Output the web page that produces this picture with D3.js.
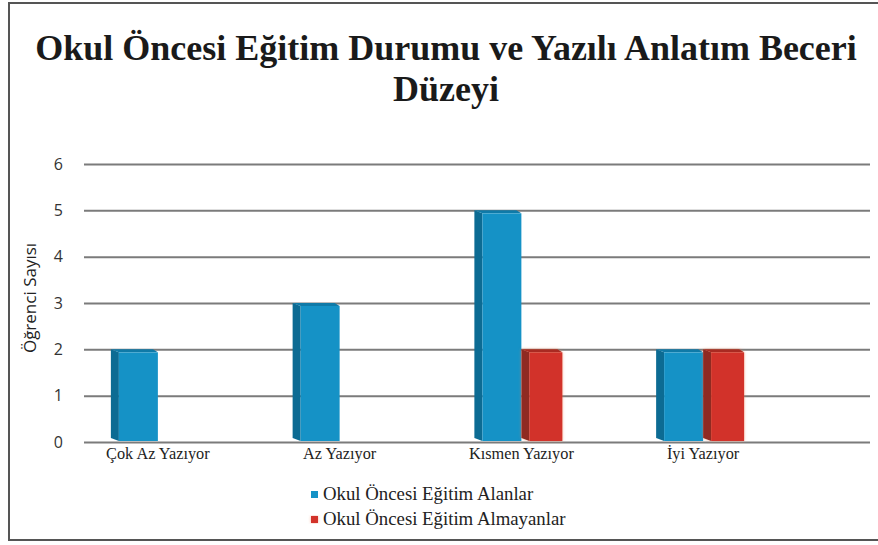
<!DOCTYPE html>
<html>
<head>
<meta charset="utf-8">
<script src="https://cdn.jsdelivr.net/npm/d3@7"></script>
<style>
  body { margin: 0; background: #fff; }
  svg { display: block; }
</style>
</head>
<body>
<script>
// Okul Öncesi Eğitim Durumu ve Yazılı Anlatım Beceri Düzeyi
// grouped bars, drawn with a little fake 3D side/top

var categories = ["Çok Az Yazıyor", "Az Yazıyor", "Kısmen Yazıyor", "İyi Yazıyor"];
var seriesNames = ["Okul Öncesi Eğitim Alanlar", "Okul Öncesi Eğitim Almayanlar"];
var alanlar = [2, 3, 5, 2];
var almayanlar = [0, 0, 2, 2];
var yTicks = [0, 1, 2, 3, 4, 5, 6];

var w = 878,
    h = 545;

var serif = "'Liberation Serif', 'Times New Roman', serif";

var colors = [
  {front: "#1592c6", side: "#0c6b93", top: "#0f7aa8"},
  {front: "#d2322a", side: "#8f2a22", top: "#a92a22"}
];

var svg = d3.select("body").append("svg")
  .attr("width", w)
  .attr("height", h);

// red bars have a soft orange halo in the original
var defs = svg.append("defs");
var glow = defs.append("filter").attr("id", "glow")
  .attr("x", "-30%").attr("y", "-10%").attr("width", "160%").attr("height", "120%");
glow.append("feGaussianBlur").attr("in", "SourceAlpha").attr("stdDeviation", 1.6).attr("result", "b");
glow.append("feFlood").attr("flood-color", "#f07850").attr("flood-opacity", 0.55);
glow.append("feComposite").attr("in2", "b").attr("operator", "in").attr("result", "g");
var merge = glow.append("feMerge");
merge.append("feMergeNode").attr("in", "g");
merge.append("feMergeNode").attr("in", "SourceGraphic");

// frame (right side runs off the picture)
svg.append("rect")
  .attr("x", 9).attr("y", 3)
  .attr("width", w + 10).attr("height", 537)
  .attr("fill", "none")
  .attr("stroke", "#555")
  .attr("stroke-width", 2);

// title
var title = svg.append("text")
  .attr("x", 446)
  .attr("text-anchor", "middle")
  .style("font-family", serif)
  .style("font-weight", "bold")
  .style("font-size", "36px")
  .attr("fill", "#1a1a1a");
title.append("tspan").attr("x", 446).attr("y", 60).text("Okul Öncesi Eğitim Durumu ve Yazılı Anlatım Beceri");
title.append("tspan").attr("x", 446).attr("y", 101).text("Düzeyi");

var y = d3.scaleLinear().domain([0, 6]).range([442, 164]);

var x = d3.scaleBand().domain(categories).range([67, 794]).padding(0);

var x1 = d3.scaleBand().domain(seriesNames)
  .range([x.bandwidth() / 2 - 47, x.bandwidth() / 2 + 47])
  .padding(0);

// gridlines + tick labels via axis
var yAxis = svg.append("g")
  .attr("transform", "translate(84,0)")
  .call(d3.axisLeft(y).tickValues(yTicks).tickSize(-786).tickPadding(21).tickFormat(d3.format("d")));
yAxis.select(".domain").remove();
yAxis.selectAll(".tick line")
  .attr("stroke", "#7b7b7b")
  .attr("stroke-width", 2);
yAxis.selectAll(".tick text")
  .style("font-family", "'Open Sans', sans-serif")
  .style("font-size", "16px")
  .attr("fill", "#333");

svg.append("text")
  .attr("transform", "translate(36,298) rotate(-90)")
  .attr("text-anchor", "middle")
  .style("font-family", "'Open Sans', sans-serif")
  .style("font-size", "17px")
  .attr("fill", "#222")
  .text("Öğrenci Sayısı");

// category labels
svg.append("g").selectAll("text")
  .data(categories)
  .join("text")
  .attr("x", function(d){ return x(d) + x.bandwidth() / 2; })
  .attr("y", 459)
  .attr("text-anchor", "middle")
  .style("font-family", serif)
  .style("font-size", "16.3px")
  .attr("fill", "#222")
  .text(function(d){ return d; });

// bars
var rows = [];
categories.forEach(function(c, i){
  rows.push({cat: c, s: 0, v: alanlar[i]});
  rows.push({cat: c, s: 1, v: almayanlar[i]});
});
rows = rows.filter(function(d){ return d.v > 0; });

var depth = 8;
var bars = svg.append("g").selectAll("g")
  .data(rows)
  .join("g")
  .attr("filter", function(d){ return d.s == 1 ? "url(#glow)" : null; });

function geom(d) {
  var bx = x(d.cat) + x1(seriesNames[d.s]),
      bw = x1.bandwidth() - (d.s == 1 ? 6 : 0),
      top = y(d.v),
      bot = y(0) - 1;
  return {bx: bx, bw: bw, top: top, bot: bot};
}

bars.append("polygon")
  .attr("points", function(d){
    var g = geom(d);
    return [[g.bx, g.top], [g.bx + depth, g.top + 3], [g.bx + depth, g.bot], [g.bx, g.bot - 3]].join(" ");
  })
  .attr("fill", function(d){ return colors[d.s].side; });

bars.append("polygon")
  .attr("points", function(d){
    var g = geom(d);
    return [[g.bx, g.top], [g.bx + g.bw - 5, g.top], [g.bx + g.bw, g.top + 3], [g.bx + depth, g.top + 3]].join(" ");
  })
  .attr("fill", function(d){ return colors[d.s].top; });

bars.append("rect")
  .attr("x", function(d){ return geom(d).bx + depth; })
  .attr("y", function(d){ return geom(d).top + 3; })
  .attr("width", function(d){ return geom(d).bw - depth; })
  .attr("height", function(d){ var g = geom(d); return g.bot - g.top - 3; })
  .attr("fill", function(d){ return colors[d.s].front; });

// legend
var legend = svg.append("g").selectAll("g")
  .data(seriesNames)
  .join("g")
  .attr("transform", function(d, i){ return "translate(311," + (500 + i * 25) + ")"; });
legend.append("rect")
  .attr("x", 0).attr("y", -9)
  .attr("width", 7).attr("height", 7)
  .attr("fill", function(d, i){ return colors[i].front; })
  .attr("filter", function(d, i){ return i == 1 ? "url(#glow)" : null; });
legend.append("text")
  .attr("x", 12)
  .attr("y", 0)
  .style("font-family", serif)
  .style("font-size", "18.8px")
  .attr("fill", "#222")
  .text(function(d){ return d; });
</script>
</body>
</html>
